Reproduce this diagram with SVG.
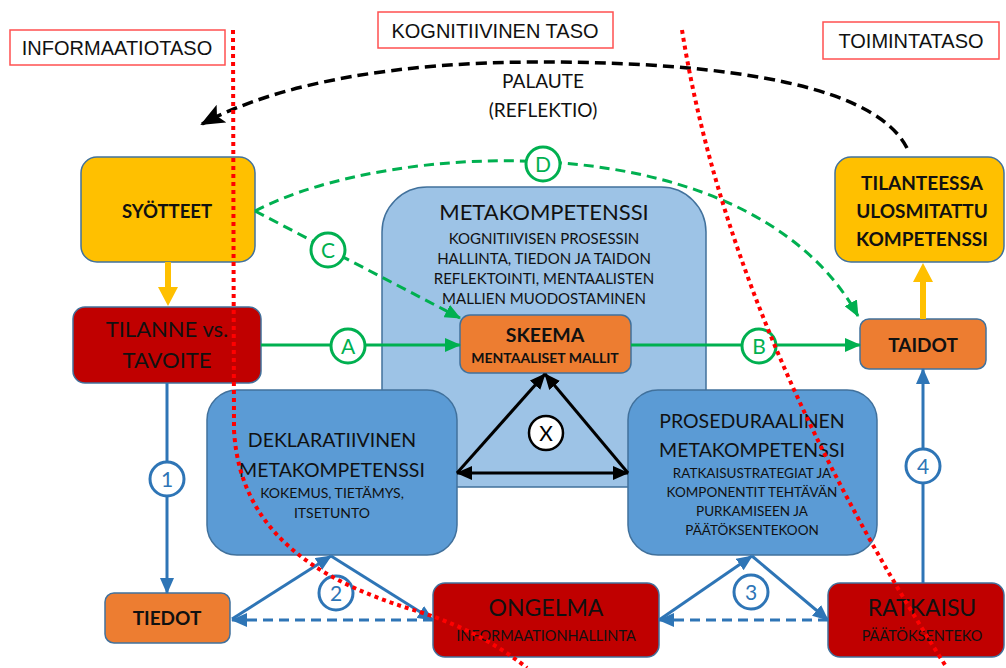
<svg xmlns="http://www.w3.org/2000/svg" width="1006" height="668" viewBox="0 0 1006 668">
  <style>
    .lbl { fill: #fff; stroke: #ff5050; stroke-width: 1.5; }
    .lbltxt { font-family: "Liberation Sans", Arial, sans-serif; font-size: 20px; fill: #111; text-anchor: middle; }
    .t { font-family: Lato, "Noto Sans", sans-serif; fill: #111; text-anchor: middle; }
    .b { font-weight: bold; }
    .node { stroke: #41719c; stroke-width: 1.5; }
    .yellow { fill: #ffc000; }
    .red { fill: #c00000; }
    .orange { fill: #ed7d31; }
    .lightblue { fill: #9dc3e6; }
    .midblue { fill: #5b9bd5; }
    .green { stroke: #00b050; stroke-width: 3; fill: none; }
    .dash { stroke-dasharray: 10 6; }
    .blue { stroke: #2e75b6; stroke-width: 3; fill: none; }
    .black { stroke: #000; stroke-width: 3; fill: none; }
    .gcirc { fill: #fff; stroke: #00b050; stroke-width: 3; }
    .bcirc { fill: #fff; stroke: #2e75b6; stroke-width: 3; }
    .ctxt { font-family: Lato, "Noto Sans", sans-serif; font-size: 21px; text-anchor: middle; }
    .dotted { stroke: #ff0000; stroke-width: 4; fill: none; stroke-dasharray: 4 4; }
  </style>
  <defs>
    <marker id="ag" markerUnits="userSpaceOnUse" markerWidth="16" markerHeight="14" refX="15" refY="7" orient="auto">
      <path d="M0,0 L16,7 L0,14 Z" fill="#00b050"/>
    </marker>
    <marker id="ab" markerUnits="userSpaceOnUse" markerWidth="16" markerHeight="14" refX="15" refY="7" orient="auto">
      <path d="M0,0 L16,7 L0,14 Z" fill="#2e75b6"/>
    </marker>
    <marker id="ak" markerUnits="userSpaceOnUse" markerWidth="16" markerHeight="14" refX="15" refY="7" orient="auto">
      <path d="M0,0 L16,7 L0,14 Z" fill="#000"/>
    </marker>
    <marker id="akStart" markerUnits="userSpaceOnUse" markerWidth="16" markerHeight="14" refX="1" refY="7" orient="auto">
      <path d="M16,0 L0,7 L16,14 Z" fill="#000"/>
    </marker>
    <marker id="akBig" markerUnits="userSpaceOnUse" markerWidth="24" markerHeight="20" refX="22" refY="10" orient="auto">
      <path d="M0,0 L24,10 L0,20 L5,10 Z" fill="#000"/>
    </marker>
  </defs>

  <rect width="1006" height="668" fill="#fff"/>

  <!-- level headings -->
  <g id="levels">
    <rect class="lbl" x="10" y="30" width="215" height="35"/>
    <text class="lbltxt" x="117" y="55">INFORMAATIOTASO</text>
    <rect class="lbl" x="378" y="12" width="235" height="36"/>
    <text class="lbltxt" x="495" y="38">KOGNITIIVINEN TASO</text>
    <rect class="lbl" x="823" y="22" width="176" height="37"/>
    <text class="lbltxt" x="911" y="48">TOIMINTATASO</text>
  </g>

  <!-- nodes -->
  <g id="metakompetenssi">
    <rect class="node lightblue" x="382" y="187" width="324" height="300" rx="45"/>
    <text class="t" x="544" y="220" font-size="22">METAKOMPETENSSI</text>
    <text class="t" x="544" y="244" font-size="15">KOGNITIIVISEN PROSESSIN</text>
    <text class="t" x="544" y="264" font-size="15">HALLINTA, TIEDON JA TAIDON</text>
    <text class="t" x="544" y="284" font-size="15">REFLEKTOINTI, MENTAALISTEN</text>
    <text class="t" x="544" y="304" font-size="15">MALLIEN MUODOSTAMINEN</text>
  </g>

  <g id="syotteet">
    <rect class="node yellow" x="81" y="157" width="174" height="105" rx="16"/>
    <text class="t b" x="167" y="218" font-size="18.5">SYÖTTEET</text>
  </g>

  <g id="tilanne">
    <rect class="node red" x="73" y="307" width="188" height="76" rx="12"/>
    <text class="t" x="167" y="337" font-size="22">TILANNE vs.</text>
    <text class="t" x="167" y="368" font-size="22">TAVOITE</text>
  </g>

  <g id="skeema">
    <rect class="node orange" x="460" y="315" width="171" height="58" rx="10"/>
    <text class="t b" x="545" y="342" font-size="19.5">SKEEMA</text>
    <text class="t b" x="545" y="363" font-size="14">MENTAALISET MALLIT</text>
  </g>

  <g id="taidot">
    <rect class="node orange" x="860" y="319" width="126" height="50" rx="9"/>
    <text class="t b" x="923" y="352" font-size="19">TAIDOT</text>
  </g>

  <g id="kompetenssi">
    <rect class="node yellow" x="835" y="157" width="169" height="105" rx="16"/>
    <text class="t b" x="922" y="190" font-size="19">TILANTEESSA</text>
    <text class="t b" x="922" y="218" font-size="19">ULOSMITATTU</text>
    <text class="t b" x="922" y="246" font-size="19">KOMPETENSSI</text>
  </g>

  <g id="deklaratiivinen">
    <rect class="node midblue" x="207" y="390" width="250" height="165" rx="30"/>
    <text class="t" x="332" y="447" font-size="19.5">DEKLARATIIVINEN</text>
    <text class="t" x="332" y="477" font-size="19.5">METAKOMPETENSSI</text>
    <text class="t" x="332" y="498" font-size="14">KOKEMUS, TIETÄMYS,</text>
    <text class="t" x="332" y="518" font-size="14">ITSETUNTO</text>
  </g>

  <g id="proseduraalinen">
    <rect class="node midblue" x="628" y="390" width="249" height="165" rx="30"/>
    <text class="t" x="752" y="428" font-size="19.5">PROSEDURAALINEN</text>
    <text class="t" x="752" y="457" font-size="19.5">METAKOMPETENSSI</text>
    <text class="t" x="752" y="478" font-size="13.5">RATKAISUSTRATEGIAT JA</text>
    <text class="t" x="752" y="497" font-size="13.5">KOMPONENTIT TEHTÄVÄN</text>
    <text class="t" x="752" y="516" font-size="13.5">PURKAMISEEN JA</text>
    <text class="t" x="752" y="535" font-size="13.5">PÄÄTÖKSENTEKOON</text>
  </g>

  <g id="tiedot">
    <rect class="node orange" x="105" y="593" width="125" height="50" rx="9"/>
    <text class="t b" x="167" y="625" font-size="19">TIEDOT</text>
  </g>

  <g id="ongelma">
    <rect class="node red" x="433" y="583" width="226" height="74" rx="12"/>
    <text class="t" x="546" y="616" font-size="23">ONGELMA</text>
    <text class="t" x="546" y="641" font-size="14.5">INFORMAATIONHALLINTA</text>
  </g>

  <g id="ratkaisu">
    <rect class="node red" x="828" y="583" width="176" height="74" rx="12"/>
    <text class="t" x="922" y="616" font-size="23">RATKAISU</text>
    <text class="t" x="922" y="641" font-size="14.5">PÄÄTÖKSENTEKO</text>
  </g>

  <!-- connectors -->
  <g id="connectors">
    <!-- feedback arc -->
    <path d="M907,148 C870,75 680,62 540,62 C400,62 280,82 202,124" stroke="#000" stroke-width="3.5" fill="none" stroke-dasharray="11 6" marker-end="url(#akBig)"/>

    <!-- yellow block arrows -->
    <path d="M165,262 L171,262 L171,287 L178,287 L168,306 L158,287 L165,287 Z" fill="#ffc000"/>
    <path d="M920,319 L926,319 L926,282 L933,282 L923,263 L913,282 L920,282 Z" fill="#ffc000"/>

    <!-- green A, B -->
    <line class="green" x1="261" y1="345" x2="460" y2="345" stroke-width="2.5" marker-end="url(#ag)"/>
    <line class="green" x1="631" y1="345" x2="860" y2="345" stroke-width="2.5" marker-end="url(#ag)"/>
    <!-- green dashed C, D -->
    <path class="green dash" d="M255,211 L460,318" marker-end="url(#ag)"/>
    <path class="green dash" d="M255,211 C390,140 750,120 858,316" marker-end="url(#ag)"/>

    <!-- triangle X -->
    <line class="black" x1="457" y1="473" x2="545" y2="374" marker-end="url(#ak)"/>
    <line class="black" x1="628" y1="473" x2="545" y2="374" marker-end="url(#ak)"/>
    <line class="black" x1="457" y1="473" x2="628" y2="473" marker-start="url(#akStart)" marker-end="url(#ak)"/>

    <!-- blue 1, 4 -->
    <line class="blue" x1="167" y1="383" x2="167" y2="593" marker-end="url(#ab)"/>
    <line class="blue" x1="923" y1="583" x2="923" y2="369" marker-end="url(#ab)"/>

    <!-- blue triangle 2 -->
    <line class="blue" x1="232" y1="619" x2="331" y2="556" marker-end="url(#ab)"/>
    <line class="blue" x1="331" y1="556" x2="433" y2="620" marker-end="url(#ab)"/>
    <line class="blue" x1="433" y1="620" x2="232" y2="620" stroke-dasharray="10 6" marker-end="url(#ab)"/>

    <!-- blue triangle 3 -->
    <line class="blue" x1="659" y1="620" x2="752" y2="556" marker-end="url(#ab)"/>
    <line class="blue" x1="752" y1="556" x2="828" y2="620" marker-end="url(#ab)"/>
    <line class="blue" x1="828" y1="620" x2="659" y2="620" stroke-dasharray="10 6" marker-end="url(#ab)"/>

    <!-- connector labels -->
    <circle class="gcirc" cx="348" cy="346" r="17"/>
    <text class="ctxt" x="348" y="354" fill="#00b050">A</text>
    <circle class="gcirc" cx="759" cy="346" r="17"/>
    <text class="ctxt" x="759" y="354" fill="#00b050">B</text>
    <circle class="gcirc" cx="328" cy="250" r="17"/>
    <text class="ctxt" x="328" y="258" fill="#00b050">C</text>
    <circle class="gcirc" cx="543" cy="164" r="17"/>
    <text class="ctxt" x="543" y="172" fill="#00b050">D</text>
    <circle fill="#fff" stroke="#000" stroke-width="2.5" cx="546" cy="433" r="17"/>
    <text class="ctxt" x="546" y="441" fill="#000">X</text>
    <circle class="bcirc" cx="167" cy="479" r="17"/>
    <text class="ctxt" x="167" y="487" fill="#2e75b6">1</text>
    <circle class="bcirc" cx="336" cy="593" r="17"/>
    <text class="ctxt" x="336" y="601" fill="#2e75b6">2</text>
    <circle class="bcirc" cx="751" cy="592" r="17"/>
    <text class="ctxt" x="751" y="600" fill="#2e75b6">3</text>
    <circle class="bcirc" cx="923" cy="466" r="17"/>
    <text class="ctxt" x="923" y="474" fill="#2e75b6">4</text>

    <!-- feedback label -->
    <text class="t" x="543" y="88" font-size="19">PALAUTE</text>
    <text class="t" x="543" y="117" font-size="19">(REFLEKTIO)</text>
  </g>

  <!-- level boundaries -->
  <g id="boundaries">
    <path class="dotted" d="M233,30 L234,430 C240,540 330,585 420,612 C470,628 505,650 527,668"/>
    <path class="dotted" d="M682,30 Q730,330 947,668"/>
  </g>
</svg>
